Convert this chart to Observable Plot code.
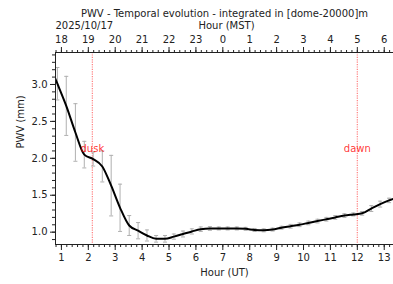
<!DOCTYPE html>
<html>
<head>
<meta charset="utf-8">
<script src="https://cdn.jsdelivr.net/npm/d3@7"></script>
<script src="https://cdn.jsdelivr.net/npm/@observablehq/plot@0.6"></script>
<style>
  html, body { margin: 0; padding: 0; background: #fff; }
</style>
</head>
<body>
<div id="chart"></div>
<script>
// Sample times (hour UT)
const times = [0.52, 0.85, 1.18, 1.52, 1.85, 2.18, 2.52, 2.85, 3.18, 3.52, 3.85, 4.18, 4.52, 4.85,
  5.18, 5.52, 5.85, 6.18, 6.52, 6.85, 7.18, 7.52, 7.85, 8.18, 8.52, 8.85, 9.18, 9.52, 9.85,
  10.18, 10.52, 10.85, 11.18, 11.52, 11.85, 12.18, 12.52, 12.85, 13.18, 13.52];
// PWV (mm)
const pwv = [3.30, 3.01, 2.71, 2.35, 2.05, 1.99, 1.89, 1.63, 1.33, 1.09, 1.02, 0.955, 0.91, 0.91,
  0.94, 0.975, 1.01, 1.04, 1.05, 1.05, 1.05, 1.05, 1.045, 1.03, 1.025, 1.035, 1.06, 1.08, 1.10,
  1.125, 1.15, 1.175, 1.20, 1.225, 1.24, 1.255, 1.32, 1.38, 1.43, 1.47];
// half error (mm)
const err = [0.22, 0.22, 0.40, 0.39, 0.18, 0.095, 0.21, 0.41, 0.32, 0.135, 0.11, 0.075, 0.045, 0.045,
  0.035, 0.04, 0.035, 0.03, 0.025, 0.02, 0.02, 0.02, 0.02, 0.02, 0.02, 0.02, 0.02, 0.025, 0.025,
  0.025, 0.025, 0.025, 0.025, 0.025, 0.02, 0.025, 0.04, 0.04, 0.03, 0.03];

const majorX = [1, 2, 3, 4, 5, 6, 7, 8, 9, 10, 11, 12, 13];
const minorX = d3.range(0.8, 13.35, 0.2);
const yTicks = [1.0, 1.5, 2.0, 2.5, 3.0];
const minorY = d3.range(0.9, 3.45, 0.1);
const events = [{t: 2.15, label: "dusk"}, {t: 12.0, label: "dawn"}];
const xDomain = [0.78, 13.345];
const yDomain = [0.833, 3.433];

const data = times.map((t, i) => ({t, v: pwv[i], lo: pwv[i] - err[i], hi: pwv[i] + err[i]}));
const mst = d => (d + 17) % 24;
const cap = 0.075;

const chart = Plot.plot({
  width: 393,
  height: 284,
  marginLeft: 55,
  marginRight: 0,
  marginTop: 52,
  marginBottom: 40,
  style: {fontFamily: "DejaVu Sans", fontSize: "10px", color: "#222", background: "#fff"},
  x: {domain: xDomain},
  y: {domain: yDomain},
  marks: [
    Plot.ruleX(events, {x: "t", stroke: "#ff0000", strokeOpacity: 0.5, strokeDasharray: "1.2,1.2", strokeWidth: 1.2}),
    Plot.ruleX(data, {x: "t", y1: "lo", y2: "hi", stroke: "#b0b0b0", strokeWidth: 1, clip: true}),
    Plot.link(data, {x1: d => d.t - cap, x2: d => d.t + cap, y1: "lo", y2: "lo", stroke: "#b0b0b0", strokeWidth: 1, clip: true}),
    Plot.link(data, {x1: d => d.t - cap, x2: d => d.t + cap, y1: "hi", y2: "hi", stroke: "#b0b0b0", strokeWidth: 1, clip: true}),
    Plot.line(data, {x: "t", y: "v", curve: "monotone-x", stroke: "#000", strokeWidth: 2, clip: true}),
    Plot.text(events, {x: "t", frameAnchor: "middle", text: "label", fill: "#ff0000", fillOpacity: 0.8, fontSize: 10}),
    // frame lines
    Plot.ruleX([xDomain[0]], {stroke: "#222"}),
    Plot.ruleY(yDomain, {stroke: "#222"}),
    // axes
    Plot.axisX(majorX, {anchor: "bottom", tickSize: 6, tickPadding: 3, tickFormat: d => String(d), label: null}),
    Plot.axisX(minorX, {anchor: "bottom", tickSize: 3, tickFormat: () => "", label: null}),
    Plot.axisX(majorX, {anchor: "top", tickSize: 6, tickPadding: 4, tickFormat: d => String(mst(d)), label: null}),
    Plot.axisX(minorX, {anchor: "top", tickSize: 3, tickFormat: () => "", label: null}),
    Plot.axisY(yTicks, {tickSize: 5, tickPadding: 3, tickFormat: d3.format(".1f"), label: null}),
    Plot.axisY(minorY, {tickSize: 3, tickFormat: () => "", label: null}),
    // labels
    Plot.text(["Hour (UT)"], {frameAnchor: "bottom", dy: 28, text: d => d, lineAnchor: "middle", fill: "#222"}),
    Plot.text(["PWV (mm)"], {frameAnchor: "left", dx: -35, rotate: -90, text: d => d, lineAnchor: "middle", fill: "#222"}),
    Plot.text(["PWV - Temporal evolution - integrated in [dome-20000]m"], {frameAnchor: "top", dy: -39, text: d => d, lineAnchor: "middle", fill: "#222"}),
    Plot.text(["Hour (MST)"], {frameAnchor: "top", dx: 2, dy: -27, text: d => d, lineAnchor: "middle", fill: "#222"}),
    Plot.text(["2025/10/17"], {frameAnchor: "top-left", dy: -27, text: d => d, textAnchor: "start", lineAnchor: "middle", fill: "#222"})
  ]
});
document.getElementById("chart").appendChild(chart);
</script>
</body>
</html>
